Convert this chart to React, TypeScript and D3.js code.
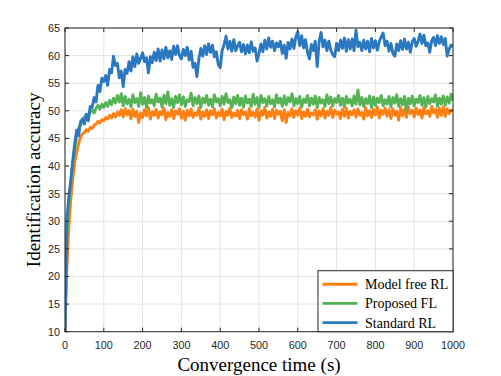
import React from 'react'
import * as d3 from 'd3'

const STEP = 5

const standardRL = [
  10, 30.5, 34.5, 37.5, 41, 44, 46.5, 45.5, 48, 48.5,
  47.6, 49.4, 48.2, 50.8, 50.6, 52.4, 51.6, 54.6, 53.5, 55.9,
  55.3, 56.4, 54.6, 57.5, 56.9, 59.9, 58.2, 58.6, 56.0, 57.2,
  54.4, 57.5, 56.8, 58.9, 57.2, 59.8, 58.0, 60.3, 58.6, 59.5,
  60.5, 58.9, 59.6, 56.9, 59.8, 58.7, 60.6, 59.1, 61.2, 59.0,
  61.0, 59.4, 61.5, 59.6, 60.9, 59.3, 61.7, 60.2, 61.8, 60.0,
  59.4, 61.1, 60.0, 61.5, 59.2, 60.8, 57.9, 58.6, 56.2, 59.4,
  61.3, 59.9, 61.8, 60.2, 62.1, 60.6, 61.9, 59.8, 60.7, 58.4,
  57.8, 60.9, 62.0, 63.5, 61.2, 62.6, 60.8, 62.9, 60.9, 61.8,
  62.4, 60.7, 62.0, 60.3, 61.9, 60.5, 62.5, 60.8, 61.4, 59.0,
  60.4, 62.1, 60.7, 62.8, 61.2, 63.2, 61.5, 62.6, 60.9, 62.3,
  61.6, 62.6, 60.4, 61.9, 59.5, 62.4, 61.2, 63.0, 61.3, 63.4,
  64.3, 61.8, 63.6, 61.4, 62.9, 60.6, 59.4, 62.0, 60.9, 62.6,
  58.0, 62.5, 64.2, 61.6, 62.8, 60.9, 62.6, 61.0, 60.2, 59.8,
  62.2, 60.9, 62.8, 61.3, 63.2, 60.8, 62.9, 61.2, 63.0, 60.9,
  64.6, 61.6, 62.4, 60.9, 62.8, 61.2, 62.6, 60.7, 63.1, 61.4,
  62.7, 61.0, 62.5, 63.4, 64.1, 61.8, 62.6, 60.8, 62.2, 60.4,
  59.9, 62.1, 60.9, 62.7, 61.1, 63.0, 61.2, 62.4, 60.6, 62.5,
  63.1, 61.7, 62.6, 63.9, 62.2, 63.7, 61.8, 62.3, 60.6, 62.7,
  63.3, 61.8, 63.6, 62.2, 63.4, 62.0, 63.1, 59.9, 61.2, 61.9,
  61.6,
]

const proposedFL = [
  10, 28, 33, 37, 40.5, 43, 45.5, 46.8, 47.5, 48.2,
  48.9, 49.3, 49.0, 49.8, 50.2, 49.6, 50.5, 51.0, 50.3, 51.2,
  50.6, 51.5, 50.8, 51.9, 51.1, 52.3, 51.4, 52.8, 51.6, 53.1,
  50.9, 52.6, 51.3, 52.1, 50.7, 52.9, 51.5, 52.2, 50.8, 53.3,
  51.2, 52.4, 50.6, 52.7, 51.4, 52.0, 50.9, 53.0, 51.6, 52.3,
  50.7, 52.8, 51.3, 53.4, 51.0, 52.2, 50.6, 52.6, 51.5, 52.9,
  51.1, 52.5, 50.8, 52.0, 51.7, 53.2, 50.9, 52.4, 51.3, 52.7,
  50.6, 52.3, 51.4, 52.8, 51.0, 52.1, 50.7, 52.9, 51.6, 52.2,
  50.9, 52.6, 51.2, 53.1, 51.5, 52.0, 50.6, 52.5, 51.3, 52.8,
  51.0, 52.3, 50.7, 52.7, 51.4, 52.1, 50.8, 53.0, 51.2, 52.4,
  50.6, 52.8, 51.5, 52.2, 50.9, 52.6, 51.3, 52.0, 50.7, 52.9,
  51.4, 52.3, 50.8, 52.7, 51.1, 52.4, 51.6, 53.1, 50.9, 52.2,
  51.3, 52.6, 50.7, 52.1, 51.5, 52.8, 50.9, 52.3, 51.2, 52.7,
  50.6, 52.4, 51.4, 52.0, 50.8, 52.9, 51.3, 52.5, 50.9, 52.2,
  51.5, 52.8, 51.0, 52.3, 50.7, 52.6, 51.4, 52.1, 50.9, 52.7,
  51.2, 53.8, 51.1, 52.4, 50.8, 52.2, 51.3, 52.7, 50.6, 52.5,
  51.0, 52.3, 51.5, 52.8, 50.9, 52.0, 51.2, 52.6, 50.7, 52.4,
  51.4, 52.9, 50.8, 52.2, 51.1, 52.6, 49.9, 52.3, 51.3, 52.7,
  50.9, 52.1, 51.5, 52.8, 51.0, 52.4, 50.7, 52.6, 51.3, 52.2,
  51.6, 52.9, 50.8, 52.3, 51.2, 52.7, 51.0, 52.5, 51.4, 53.0,
  51.8,
]

const modelFreeRL = [
  10, 22, 29, 34, 37.5, 40.5, 42.5, 44, 45.2, 45.8,
  46.1, 46.6, 46.3, 47.0, 46.8, 47.4, 47.6, 48.1, 47.8, 48.4,
  48.2, 48.8, 48.5, 49.2, 48.7, 49.5, 48.9, 49.8, 49.2, 50.2,
  48.9, 50.4, 49.3, 50.1, 48.6, 50.3, 49.0, 49.9, 47.9, 49.6,
  48.8, 50.2, 49.1, 50.6, 48.5, 49.8, 49.2, 50.3, 48.7, 49.9,
  49.3, 50.5, 48.4, 49.7, 49.0, 50.2, 48.6, 50.0, 49.4, 50.4,
  48.7, 49.9, 48.3, 50.1, 49.1, 50.3, 48.8, 49.6, 49.2, 50.5,
  48.5, 49.8, 49.0, 50.2, 48.6, 50.0, 49.3, 50.4, 48.7, 49.7,
  49.1, 50.3, 48.4, 49.9, 49.2, 50.5, 48.8, 49.6, 49.0, 50.1,
  48.6, 50.2, 49.3, 49.8, 48.5, 50.4, 49.1, 49.7, 48.9, 50.3,
  48.3, 50.0, 49.2, 50.6, 48.7, 49.8, 49.0, 50.3, 48.6, 50.1,
  49.4, 49.9, 48.2, 50.2, 47.9, 49.7, 49.1, 50.4, 48.8, 50.0,
  49.2, 50.5, 48.6, 49.8, 49.0, 50.3, 48.9, 49.6, 49.3, 50.2,
  48.5, 50.0, 49.1, 50.4, 48.7, 49.9, 49.2, 50.6, 48.8, 50.1,
  49.4, 49.8, 48.6, 50.3, 49.0, 50.5, 48.7, 49.9, 49.3, 50.2,
  48.9, 50.4, 49.2, 49.7, 48.5, 50.6, 49.1, 50.0, 48.8, 50.3,
  49.3, 50.7, 48.7, 50.1, 49.4, 50.5, 49.0, 50.2, 48.6, 50.4,
  49.2, 49.9, 48.3, 50.6, 49.1, 50.3, 48.8, 50.7, 49.5, 50.1,
  48.9, 50.5, 49.3, 50.2, 48.7, 50.6, 49.4, 50.0, 49.0, 50.8,
  49.6, 50.3, 48.8, 50.5, 49.2, 50.7, 49.0, 50.4, 49.5, 50.1,
  50.1,
]

const seriesNames = ['Model free RL', 'Proposed FL', 'Standard RL']
const seriesColors = ['#ff7f10', '#55b355', '#2a78bf']
const seriesData = [modelFreeRL, proposedFL, standardRL]

const xTicks = [0, 100, 200, 300, 400, 500, 600, 700, 800, 900, 1000]
const yTicks = [10, 15, 20, 25, 30, 35, 40, 45, 50, 55, 60, 65]

const width = 501
const height = 376
const margin = { top: 28, right: 48, bottom: 44.3, left: 65 }

const App = () => {
  const x = d3.scaleLinear()
    .domain([0, 1000])
    .range([margin.left, width - margin.right])
  const y = d3.scaleLinear()
    .domain([10, 65])
    .range([height - margin.bottom, margin.top])

  const line = d3.line<number>()
    .x((d, i) => x(i * STEP))
    .y(d => y(d))

  const [x0, x1] = x.range()
  const [y0, y1] = y.range()
  const axisColor = '#262626'
  const tickFont = '"Liberation Sans", Arial, sans-serif'
  const serif = '"Liberation Serif", "Times New Roman", serif'

  // legend box
  const lgW = 135
  const lgH = 61
  const lgX = x1 - lgW
  const lgY = y0 - lgH

  return (
    <svg width={width} height={height} style={{ position: 'absolute', left: 0, top: 0, background: '#fff' }}>
      <defs>
        <clipPath id="plot">
          <rect x={x0} y={y1} width={x1 - x0} height={y0 - y1} />
        </clipPath>
      </defs>
      <rect x={x0} y={y1} width={x1 - x0} height={y0 - y1} fill="#fff" />

      {/* grid */}
      <g stroke="#e3e3e3" strokeWidth={1}>
        {xTicks.map(t => <line key={'gx' + t} x1={x(t)} x2={x(t)} y1={y1} y2={y0} />)}
        {yTicks.map(t => <line key={'gy' + t} x1={x0} x2={x1} y1={y(t)} y2={y(t)} />)}
      </g>

      {/* series, plotted in legend order so blue ends on top */}
      <g clipPath="url(#plot)" fill="none" strokeWidth={2.9} strokeLinejoin="round">
        {seriesData.map((s, i) => (
          <path key={seriesNames[i]} d={line(s) || ''} stroke={seriesColors[i]} />
        ))}
      </g>

      {/* box + inner ticks */}
      <g stroke={axisColor} strokeWidth={1}>
        <rect x={x0} y={y1} width={x1 - x0} height={y0 - y1} fill="none" />
        {xTicks.map(t => (
          <g key={'tx' + t}>
            <line x1={x(t)} x2={x(t)} y1={y0} y2={y0 - 4} />
            <line x1={x(t)} x2={x(t)} y1={y1} y2={y1 + 4} />
          </g>
        ))}
        {yTicks.map(t => (
          <g key={'ty' + t}>
            <line x1={x0} x2={x0 + 4} y1={y(t)} y2={y(t)} />
            <line x1={x1} x2={x1 - 4} y1={y(t)} y2={y(t)} />
          </g>
        ))}
      </g>

      {/* tick labels */}
      <g fill={axisColor} fontFamily={tickFont} fontSize={10.8}>
        {xTicks.map(t => (
          <text key={'lx' + t} x={x(t)} y={y0 + 17.5} textAnchor="middle">{t}</text>
        ))}
        {yTicks.map(t => (
          <text key={'ly' + t} x={x0 - 5} y={y(t) + 4} textAnchor="end">{t}</text>
        ))}
      </g>

      {/* axis titles */}
      <text x={(x0 + x1) / 2} y={371} textAnchor="middle" fontFamily={serif} fontSize={19} fill="#000">
        Convergence time (s)
      </text>
      <text transform={`translate(40,${(y0 + y1) / 2}) rotate(-90)`} textAnchor="middle"
        fontFamily={serif} fontSize={19} fill="#000">
        Identification accuracy
      </text>

      {/* legend */}
      <g>
        <rect x={lgX} y={lgY} width={lgW} height={lgH} fill="#fff" stroke={axisColor} strokeWidth={1} />
        {seriesNames.map((name, i) => {
          const cy = lgY + 13.5 + i * 19.2
          return (
            <g key={'lg' + name}>
              <line x1={lgX + 4.5} x2={lgX + 39.5} y1={cy} y2={cy} stroke={seriesColors[i]} strokeWidth={2.9} />
              <text x={lgX + 47} y={cy + 5} fontFamily={serif} fontSize={14} fill="#000">{name}</text>
            </g>
          )
        })}
      </g>
    </svg>
  )
}

export default App
